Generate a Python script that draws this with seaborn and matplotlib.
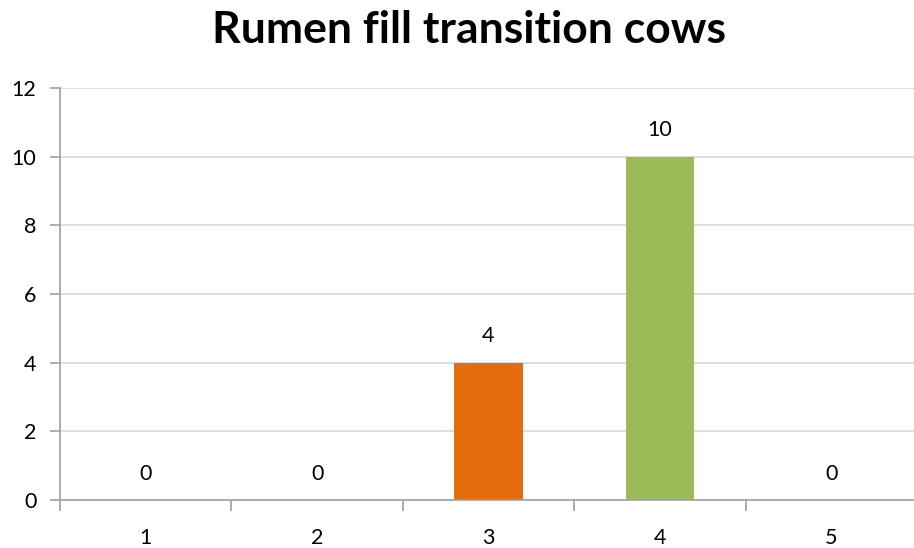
import matplotlib
matplotlib.use("Agg")
import matplotlib.pyplot as plt
import seaborn as sns
import pandas as pd

categories = ["1", "2", "3", "4", "5"]
values = [0, 0, 4, 10, 0]
colors = ["#4F81BD", "#C0504D", "#E46C0A", "#9BBB59", "#8064A2"]
title = "Rumen fill transition cows"

sns.set_theme(style="white")
plt.rcParams['font.family'] = ['Lato', 'DejaVu Sans']

df = pd.DataFrame({"cat": categories, "val": values})

fig = plt.figure(figsize=(9.14, 5.48), dpi=100)
ax = fig.add_axes([60/914, 1-500/548, 857/914, 412/548])
sns.barplot(data=df, x="cat", y="val", hue="cat", palette=colors, width=0.4,
            legend=False, ax=ax, saturation=1, linewidth=0, edgecolor="none")

ax.set_ylim(0, 12)
ax.set_yticks(range(0, 13, 2))
ax.set_xlim(-0.5, 4.5)
ax.yaxis.grid(True, color="#D9D9D9", linewidth=1.2)
ax.set_axisbelow(True)
for s in ["top", "right"]:
    ax.spines[s].set_visible(False)
for s in ["left", "bottom"]:
    ax.spines[s].set_color("#A0A0A0")
    ax.spines[s].set_linewidth(1.2)
ax.set_xlabel("")
ax.set_ylabel("")
ax.tick_params(axis="both", labelsize=15.5, colors="#000000")
ax.tick_params(axis="y", length=7, width=1.2, color="#A0A0A0", pad=10, left=True)
ax.tick_params(axis="x", bottom=False, pad=14)
ax.set_xticks([i - 0.5 for i in range(6)], minor=True)
ax.tick_params(axis="x", which="minor", bottom=True, length=8, width=1.2, color="#A0A0A0")

for i, v in enumerate(values):
    ax.annotate(str(v), (i, v), xytext=(0, 19), textcoords="offset points",
                ha="center", va="center", fontsize=15.5, color="#000000")

fig.text(469.5/914, 1-30/548, title, ha="center", va="center", fontsize=32,
         fontweight="bold", color="#000000")

fig.savefig("out.png", dpi=100)
